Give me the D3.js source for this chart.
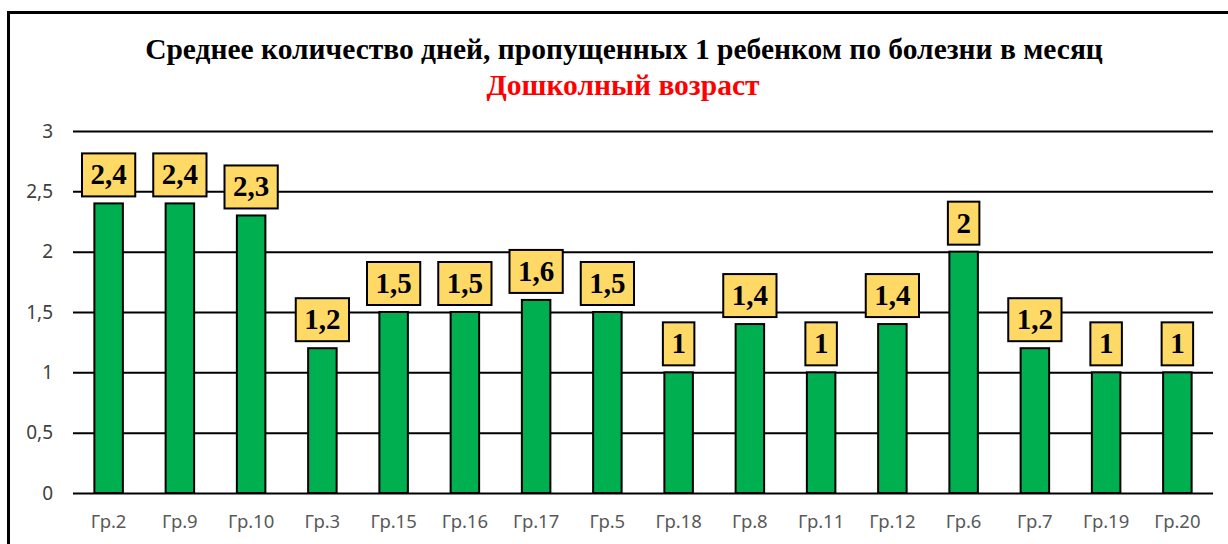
<!DOCTYPE html>
<html>
<head>
<meta charset="utf-8">
<script src="https://cdn.jsdelivr.net/npm/d3@7"></script>
<style>
  body { margin: 0; background: #fff; }
  svg { display: block; }
</style>
</head>
<body>
<div id="chart"></div>
<script>
// data
const groups = ["Гр.2", "Гр.9", "Гр.10", "Гр.3", "Гр.15", "Гр.16", "Гр.17", "Гр.5",
                "Гр.18", "Гр.8", "Гр.11", "Гр.12", "Гр.6", "Гр.7", "Гр.19", "Гр.20"];
const days = [2.4, 2.4, 2.3, 1.2, 1.5, 1.5, 1.6, 1.5, 1, 1.4, 1, 1.4, 2, 1.2, 1, 1];
const yTicks = [0, 0.5, 1, 1.5, 2, 2.5, 3];
const title = "Среднее количество дней, пропущенных 1 ребенком по болезни в месяц";
const subtitle = "Дошколный возраст";

const W = 1228, H = 544;
const margin = {top: 131, right: 15, bottom: 51, left: 73};
const width = W - margin.left - margin.right,
      height = H - margin.top - margin.bottom;

const fmt = v => String(v).replace(".", ",");

const svg = d3.select("#chart").append("svg")
    .attr("width", W)
    .attr("height", H);

//outer frame (runs off the right and bottom)
svg.append("rect")
    .attr("x", 8.5).attr("y", 12.5)
    .attr("width", 1240).attr("height", 560)
    .attr("fill", "none")
    .attr("stroke", "#000")
    .attr("stroke-width", 3);

//titles
svg.append("text")
    .attr("x", 624).attr("y", 59)
    .attr("text-anchor", "middle")
    .style("font-family", "'Liberation Serif', 'Times New Roman', serif")
    .style("font-weight", "bold")
    .style("font-size", "29.5px")
    .text(title);

svg.append("text")
    .attr("x", 623).attr("y", 95)
    .attr("text-anchor", "middle")
    .attr("fill", "#ff0000")
    .style("font-family", "'Liberation Serif', 'Times New Roman', serif")
    .style("font-weight", "bold")
    .style("font-size", "29.5px")
    .text(subtitle);

const g = svg.append("g")
    .attr("transform", `translate(${margin.left}, ${margin.top})`);

const x = d3.scaleBand()
    .domain(groups)
    .range([0, width])
    .paddingInner(0.6)
    .paddingOuter(0.3);

const y = d3.scaleLinear()
    .domain([0, 3])
    .range([height, 0]);

//gridlines + y labels
const yAxis = g.append("g")
    .call(d3.axisLeft(y).tickValues(yTicks).tickSize(-width).tickFormat(fmt).tickPadding(20));
yAxis.select(".domain").remove();
yAxis.selectAll(".tick line")
    .attr("stroke", "#000")
    .attr("stroke-width", 2);
yAxis.selectAll(".tick text")
    .attr("fill", "#404040")
    .style("font-family", "'Noto Sans', 'Open Sans', sans-serif")
    .style("font-size", "19px");

//x labels
const xAxis = g.append("g")
    .attr("transform", `translate(0, ${height})`)
    .call(d3.axisBottom(x).tickSize(0).tickPadding(22));
xAxis.select(".domain").remove();
xAxis.selectAll(".tick text")
    .attr("fill", "#595959")
    .style("font-family", "'Noto Sans', 'Open Sans', sans-serif")
    .style("font-size", "18.5px");

//bars
g.selectAll(".bar")
    .data(days)
    .enter()
  .append("rect")
    .attr("class", "bar")
    .attr("x", (d, i) => x(groups[i]))
    .attr("y", d => y(d))
    .attr("width", x.bandwidth())
    .attr("height", d => height - y(d))
    .attr("fill", "#00b050")
    .attr("stroke", "#000")
    .attr("stroke-width", 2);

//value labels in boxes
const lab = g.selectAll(".lab")
    .data(days)
    .enter()
  .append("g")
    .attr("class", "lab")
    .attr("transform", (d, i) => `translate(${x(groups[i]) + x.bandwidth() / 2}, ${y(d) - 7})`);

lab.append("rect")
    .attr("fill", "#ffd966")
    .attr("stroke", "#000")
    .attr("stroke-width", 2);

lab.append("text")
    .attr("text-anchor", "middle")
    .attr("y", -12)
    .style("font-family", "'Liberation Serif', 'Times New Roman', serif")
    .style("font-weight", "bold")
    .style("font-size", "29px")
    .text(d => fmt(d));

lab.each(function() {
  const t = d3.select(this).select("text").node().getComputedTextLength();
  d3.select(this).select("rect")
      .attr("x", -(t + 17) / 2)
      .attr("y", -43)
      .attr("width", t + 17)
      .attr("height", 43);
});
</script>
</body>
</html>
